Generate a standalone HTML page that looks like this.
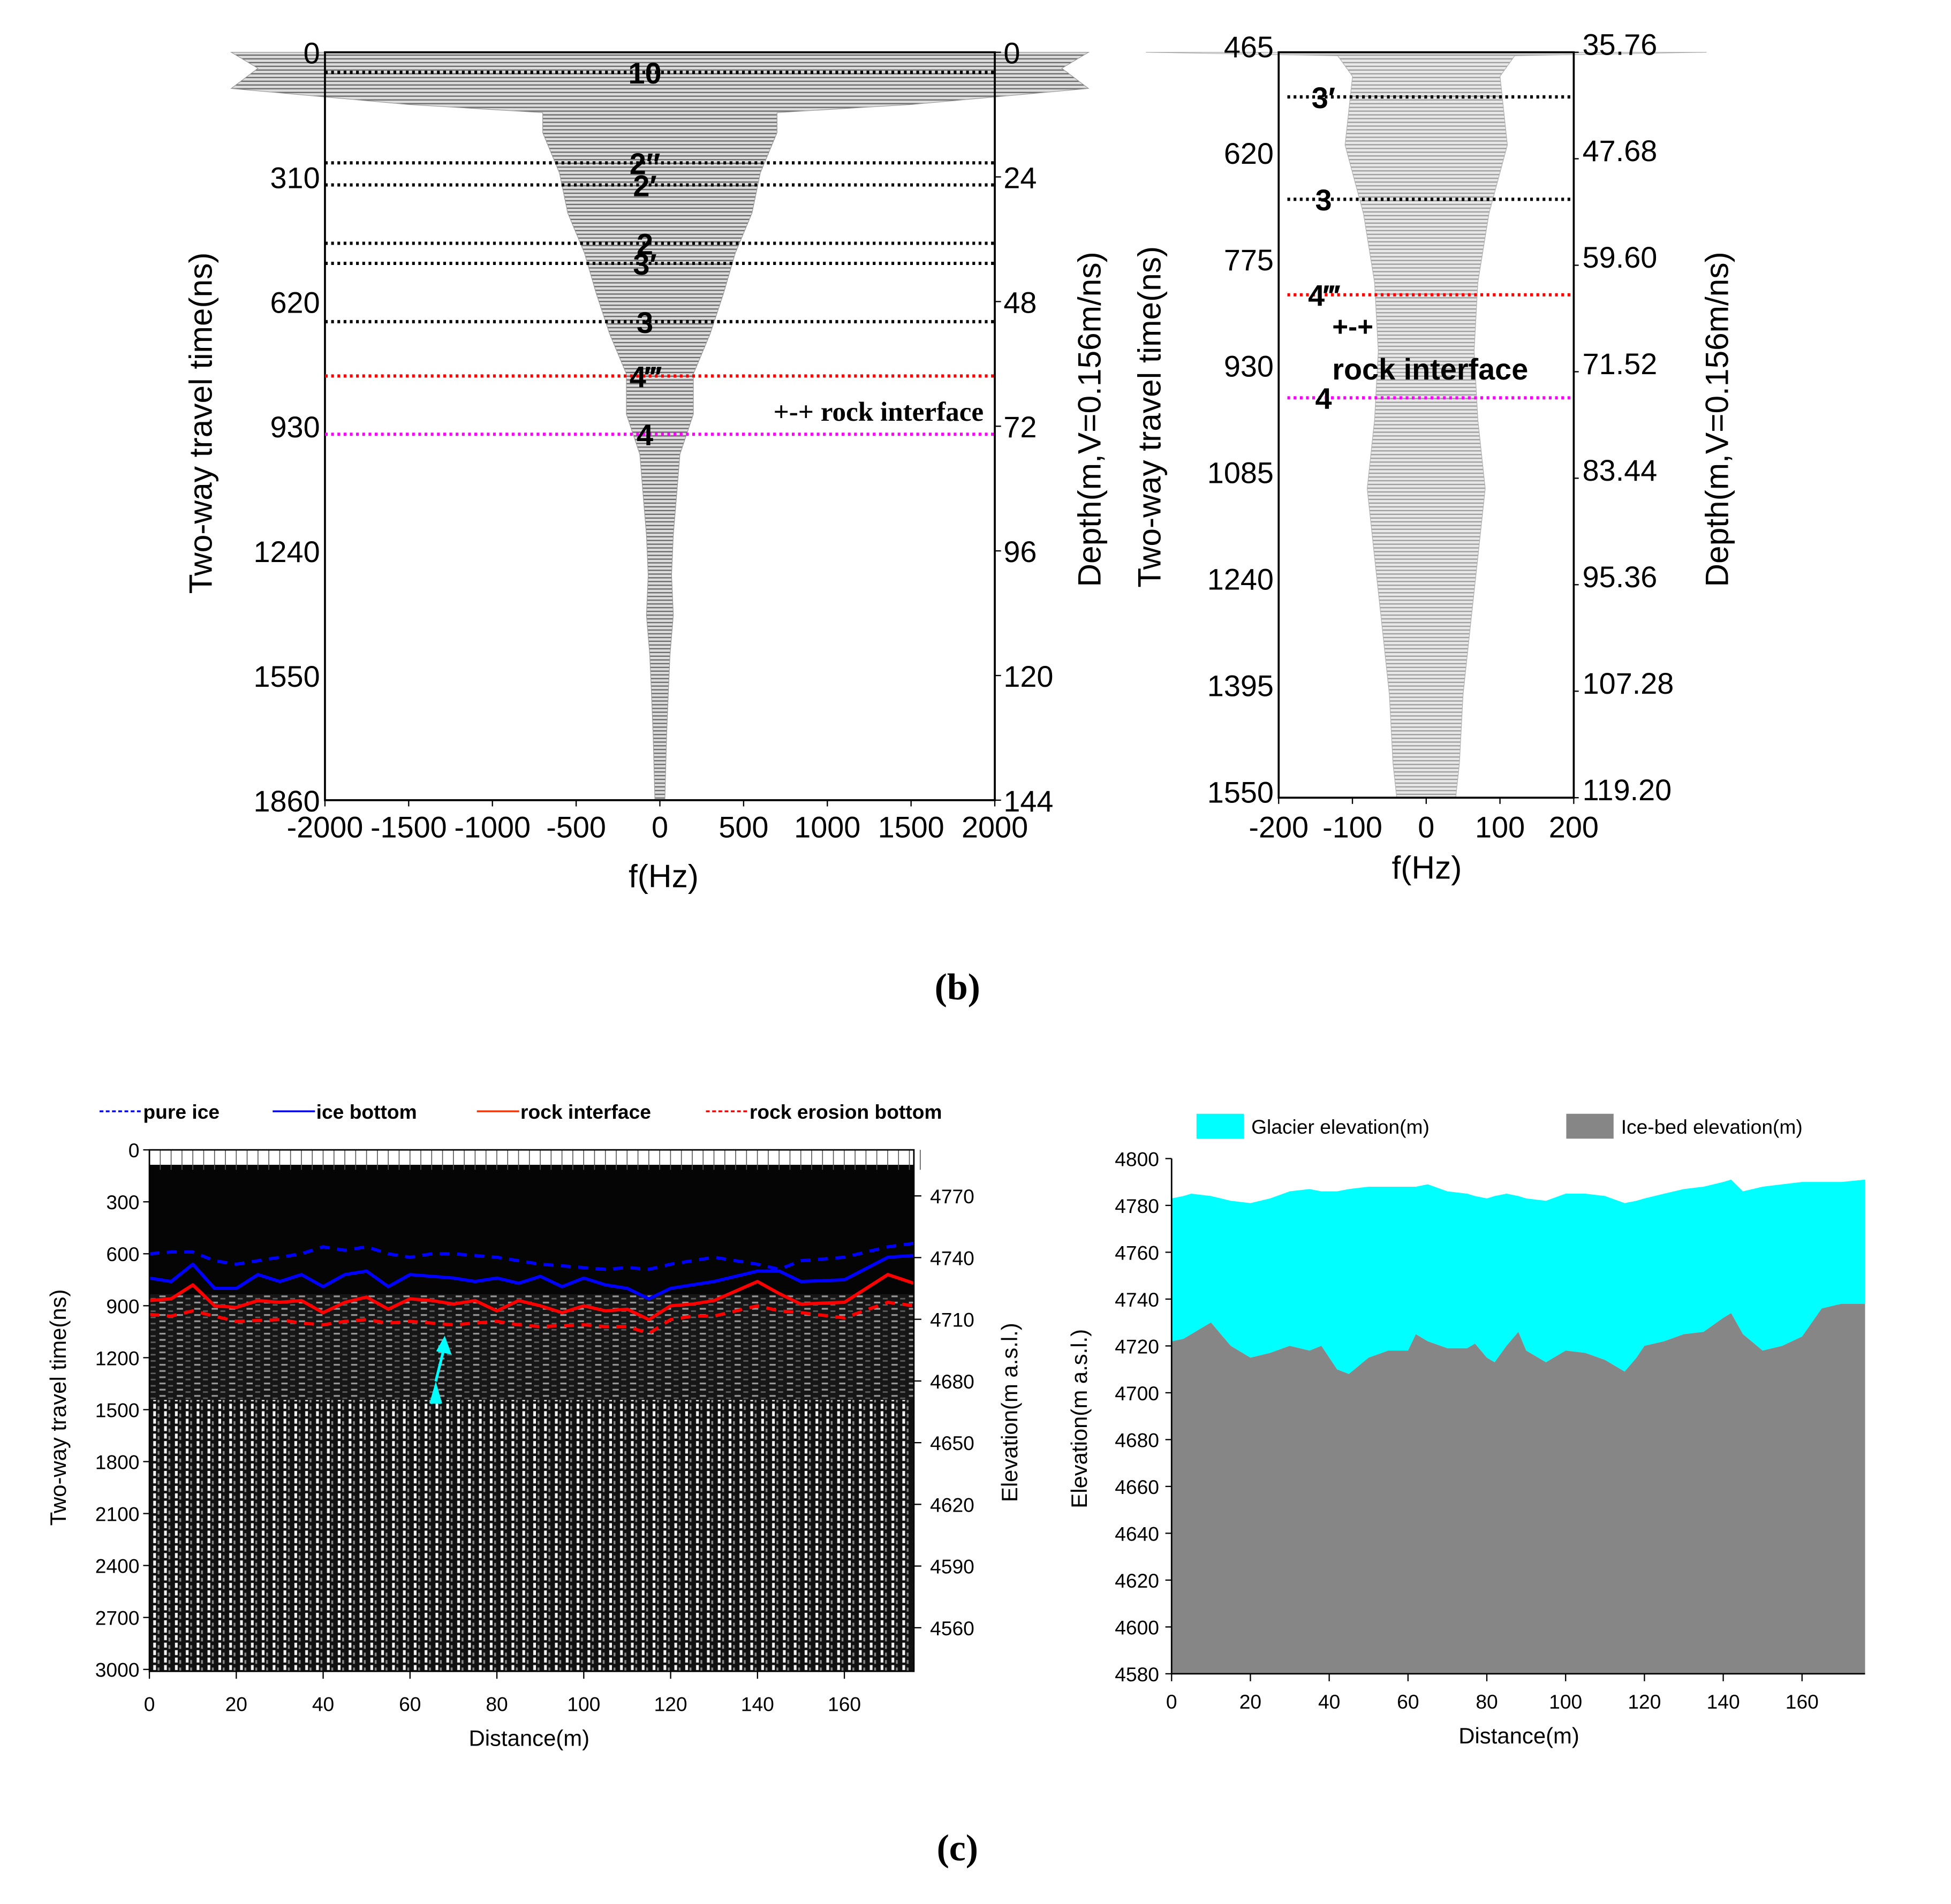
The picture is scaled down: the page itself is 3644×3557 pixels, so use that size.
<!DOCTYPE html>
<html><head><meta charset="utf-8">
<style>
html,body{margin:0;padding:0;background:#fff;}
svg{display:block;}
text{font-family:"Liberation Sans",Arial,sans-serif;}
</style></head>
<body>
<svg id="fig" xmlns="http://www.w3.org/2000/svg" width="3644" height="3557" viewBox="0 0 1567 1530" preserveAspectRatio="none">
<defs>
<pattern id="hstripe" width="6" height="3" patternUnits="userSpaceOnUse">
<rect width="6" height="3" fill="#dcdcdc"/><rect y="1.8" width="6" height="1" fill="#6a6a6a"/>
</pattern>
<pattern id="vstripe" width="8.72" height="6" patternUnits="userSpaceOnUse">
<rect width="8.72" height="6" fill="#111"/><rect x="1" width="2.2" height="4" fill="#f4f4f4"/><rect x="4.5" y="2" width="1.5" height="3" fill="#888"/>
</pattern>
<pattern id="speck" width="14" height="5" patternUnits="userSpaceOnUse">
<rect width="14" height="5" fill="#1a1a1a"/><rect x="2" y="1" width="5" height="1.4" fill="#bbb"/><rect x="9" y="3" width="4" height="1.2" fill="#777"/>
</pattern>
</defs>
<g id="root"></g>
</svg>
<script>
// ---- Panel (b) left: envelope of wiggle trace (time ns -> half-amplitude Hz)
const bLeftTimes = [0, 40, 90, 130, 150, 200, 300, 400, 500, 600, 700, 800, 900, 1000, 1100, 1200, 1300, 1400, 1500, 1600, 1700, 1860];
const bLeftAmp   = [2560, 2400, 2560, 1500, 700, 700, 600, 550, 450, 380, 300, 200, 200, 120, 100, 80, 70, 80, 60, 50, 40, 30];
const bLeftYTicks = [0, 310, 620, 930, 1240, 1550, 1860];
const bLeftDepthTicks = [0, 24, 48, 72, 96, 120, 144];
const bLeftXTicks = [-2000, -1500, -1000, -500, 0, 500, 1000, 1500, 2000];
const bLeftMarkerTimes = [50, 275, 330, 475, 525, 670, 805, 950];
const bLeftMarkerLabels = ["10", "2\u2033", "2\u2032", "2", "3\u2032", "3", "4\u2034", "4"];
const bLeftMarkerColors = ["#000", "#000", "#000", "#000", "#000", "#000", "#ff0000", "#ff00ff"];
// ---- Panel (b) right
const bRightTimes = [465, 470, 500, 600, 700, 800, 900, 1000, 1100, 1200, 1300, 1400, 1500, 1550];
const bRightAmp   = [380, 120, 100, 110, 85, 70, 65, 70, 80, 70, 60, 50, 45, 40];
const bRightYTicks = [465, 620, 775, 930, 1085, 1240, 1395, 1550];
const bRightDepthTicks = ["35.76", "47.68", "59.60", "71.52", "83.44", "95.36", "107.28", "119.20"];
const bRightXTicks = [-200, -100, 0, 100, 200];
const bRightMarkerTimes = [530, 679, 818, 968];
const bRightMarkerLabels = ["3\u2032", "3", "4\u2034", "4"];
const bRightMarkerColors = ["#000", "#000", "#ff0000", "#ff00ff"];
// ---- Panel (c) left: radargram horizons (distance m -> time ns)
const cDist = [0, 5, 10, 15, 20, 25, 30, 35, 40, 45, 50, 55, 60, 65, 70, 75, 80, 85, 90, 95, 100, 105, 110, 115, 120, 125, 130, 140, 145, 150, 160, 170, 176];
const pureIce   = [600, 590, 590, 640, 660, 640, 620, 600, 560, 580, 560, 600, 620, 600, 600, 610, 620, 640, 660, 670, 680, 690, 680, 690, 660, 640, 620, 660, 690, 640, 620, 560, 540];
const iceBottom = [740, 760, 660, 800, 800, 720, 760, 720, 790, 720, 700, 790, 720, 730, 740, 760, 740, 770, 730, 790, 740, 780, 800, 860, 800, 780, 760, 700, 700, 760, 750, 620, 610];
const rockIface = [870, 860, 780, 900, 910, 870, 880, 870, 940, 880, 850, 920, 860, 870, 890, 870, 930, 870, 900, 940, 900, 930, 920, 980, 900, 890, 870, 760, 830, 890, 880, 720, 770];
const erosion   = [950, 960, 930, 960, 990, 985, 980, 1000, 1010, 990, 980, 1000, 990, 1000, 1010, 1000, 990, 1010, 1020, 1015, 1010, 1020, 1020, 1060, 980, 960, 960, 900, 930, 940, 970, 880, 900];
const cLeftYTicks = [0, 300, 600, 900, 1200, 1500, 1800, 2100, 2400, 2700, 3000];
const cLeftElevTicks = [4770, 4740, 4710, 4680, 4650, 4620, 4590, 4560];
const cXTicks = [0, 20, 40, 60, 80, 100, 120, 140, 160];
// ---- Panel (c) right: elevations
const elevDist = [0, 3, 5, 10, 15, 20, 25, 30, 35, 38, 42, 45, 50, 55, 60, 62, 65, 70, 75, 77, 80, 82, 85, 88, 90, 95, 100, 105, 110, 115, 118, 120, 125, 130, 135, 140, 142, 145, 150, 155, 160, 165, 170, 176];
const glacierElev = [4783, 4784, 4785, 4784, 4782, 4781, 4783, 4786, 4787, 4786, 4786, 4787, 4788, 4788, 4788, 4788, 4789, 4786, 4785, 4784, 4783, 4784, 4785, 4784, 4783, 4782, 4785, 4785, 4784, 4781, 4782, 4783, 4785, 4787, 4788, 4790, 4791, 4786, 4788, 4789, 4790, 4790, 4790, 4791];
const bedElev = [4722, 4723, 4725, 4730, 4720, 4715, 4717, 4720, 4718, 4720, 4710, 4708, 4715, 4718, 4718, 4725, 4722, 4719, 4719, 4721, 4715, 4713, 4720, 4726, 4718, 4713, 4718, 4717, 4714, 4709, 4715, 4720, 4722, 4725, 4726, 4732, 4734, 4725, 4718, 4720, 4724, 4736, 4738, 4738];
const cRightYTicks = [4580, 4600, 4620, 4640, 4660, 4680, 4700, 4720, 4740, 4760, 4780, 4800];

const NS = "http://www.w3.org/2000/svg";
const root = document.getElementById("root");
function mk(tag, attrs, parent) {
  const e = document.createElementNS(NS, tag);
  for (const k in attrs) e.setAttribute(k, attrs[k]);
  (parent || root).appendChild(e);
  return e;
}
function txt(s, x, y, size, attrs, parent) {
  const a = Object.assign({x: x, y: y, "font-size": size}, attrs || {});
  const e = mk("text", a, parent);
  e.textContent = s;
  return e;
}
function lin(d0, d1, r0, r1) { return v => r0 + (v - d0) * (r1 - r0) / (d1 - d0); }
const SERIF = "font-family:'Liberation Serif',serif";

// ================= Panel b left =================
(function () {
  const L = 261, R = 799, T = 42, B = 643;
  const x = lin(-2000, 2000, L, R), y = lin(0, 1860, T, B), yd = lin(0, 144, T, B);
  const g = mk("g", {});
  
  
  let up = "", dn = "";
  bLeftTimes.forEach((t, i) => { up += (i ? "L" : "M") + x(bLeftAmp[i]).toFixed(1) + "," + y(t).toFixed(1); });
  for (let i = bLeftTimes.length - 1; i >= 0; i--) dn += "L" + x(-bLeftAmp[i]).toFixed(1) + "," + y(bLeftTimes[i]).toFixed(1);
  const env = mk("path", {d: up + dn + "Z", fill: "url(#hstripe)", stroke: "#999", "stroke-width": 0.5}, g);
  
  
  const ax = mk("rect", {x: L, y: T, width: R - L, height: B - T, fill: "none", stroke: "#000", "stroke-width": 1.6}, g);
  
  
  bLeftMarkerTimes.forEach((t, i) => {
    const l = mk("line", {x1: L, x2: R, y1: y(t), y2: y(t), stroke: bLeftMarkerColors[i], "stroke-width": 2.6, "stroke-dasharray": "2.2 2.8"}, g);
    
    
    const tx = txt(bLeftMarkerLabels[i], 518, y(t) + 9, 24, {"font-weight": "bold", "text-anchor": "middle"}, g);
    
    
  });
  const ri = txt("+-+ rock interface", 790, 338, 22, {style: SERIF, "font-weight": "bold", "text-anchor": "end"}, g);
  
  
  bLeftYTicks.forEach(v => {
    const tk = txt(String(v), L - 4, y(v) + 9, 24, {"text-anchor": "end"}, g);
    
    
  });
  bLeftDepthTicks.forEach(v => {
    mk("line", {x1: R, x2: R + 5, y1: yd(v), y2: yd(v), stroke: "#000"}, g);
    const tk = txt(String(v), R + 7, yd(v) + 9, 24, {}, g);
    
    
  });
  bLeftXTicks.forEach(v => {
    mk("line", {x1: x(v), x2: x(v), y1: B, y2: B + 5, stroke: "#000"}, g);
    const tk = txt(String(v), x(v), 673, 24, {"text-anchor": "middle"}, g);
    
    
  });
  const xl = txt("f(Hz)", 533, 713, 26, {"text-anchor": "middle"}, g);
  
  
  const yl = txt("Two-way travel time(ns)", 0, 0, 26, {"text-anchor": "middle", transform: "translate(170,340) rotate(-90)"}, g);
  
  
  const dl = txt("Depth(m,V=0.156m/ns)", 0, 0, 26, {"text-anchor": "middle", transform: "translate(884,337) rotate(-90)"}, g);
  
  
})();

// ================= Panel b right =================
(function () {
  const L = 1027, R = 1264, T = 42, B = 641;
  const x = lin(-200, 200, L, R), y = lin(465, 1550, T, B);
  const g = mk("g", {});
  
  
  let up = "", dn = "";
  bRightTimes.forEach((t, i) => { up += (i ? "L" : "M") + x(bRightAmp[i]).toFixed(1) + "," + y(t).toFixed(1); });
  for (let i = bRightTimes.length - 1; i >= 0; i--) dn += "L" + x(-bRightAmp[i]).toFixed(1) + "," + y(bRightTimes[i]).toFixed(1);
  const env = mk("path", {d: up + dn + "Z", fill: "url(#hstripe)", stroke: "#888", "stroke-width": 0.5, opacity: 0.65}, g);
  
  
  const ax = mk("rect", {x: L, y: T, width: R - L, height: B - T, fill: "none", stroke: "#000", "stroke-width": 1.6}, g);
  
  
  bRightMarkerTimes.forEach((t, i) => {
    const l = mk("line", {x1: 1034, x2: R, y1: y(t), y2: y(t), stroke: bRightMarkerColors[i], "stroke-width": 2.6, "stroke-dasharray": "2.2 2.8"}, g);
    
    
    const tx = txt(bRightMarkerLabels[i], 1063, y(t) + 9, 24, {"font-weight": "bold", "text-anchor": "middle"}, g);
    
    
  });
  const a1 = txt("+-+", 1070, 270, 22, {"font-weight": "bold"}, g);
  
  
  const a2 = txt("rock interface", 1070, 305, 24, {"font-weight": "bold"}, g);
  
  
  bRightYTicks.forEach(v => {
    const tk = txt(String(v), L - 4, y(v) + 4, 24, {"text-anchor": "end"}, g);
    
    
  });
  bRightDepthTicks.forEach((s, i) => {
    const yy = y(bRightYTicks[i]);
    mk("line", {x1: R, x2: R + 4, y1: yy, y2: yy, stroke: "#000"}, g);
    const tk = txt(s, R + 7, yy + 2, 24, {}, g);
    
    
  });
  bRightXTicks.forEach(v => {
    mk("line", {x1: x(v), x2: x(v), y1: B, y2: B + 5, stroke: "#000"}, g);
    const tk = txt(String(v), x(v), 673, 24, {"text-anchor": "middle"}, g);
    
    
  });
  const xl = txt("f(Hz)", 1146, 706, 26, {"text-anchor": "middle"}, g);
  
  
  const yl = txt("Two-way travel time(ns)", 0, 0, 26, {"text-anchor": "middle", transform: "translate(932,335) rotate(-90)"}, g);
  
  
  const dl = txt("Depth(m,V=0.156m/ns)", 0, 0, 26, {"text-anchor": "middle", transform: "translate(1388,337) rotate(-90)"}, g);
  
  
})();

const capB = txt("(b)", 769, 803, 30, {style: SERIF, "font-weight": "bold", "text-anchor": "middle"});


const capC = txt("(c)", 769, 1495, 30, {style: SERIF, "font-weight": "bold", "text-anchor": "middle"});



// ================= Panel c left =================
(function () {
  const L = 120, R = 734, T = 924, B = 1343;
  const x = lin(0, 176, L, R), y = lin(0, 3000, T, 1341.5), ye = lin(4770, 4560, 961, 1308);
  const g = mk("g", {});
  
  
  const r1 = mk("rect", {x: L, y: 936, width: R - L, height: B - 936, fill: "#050505"}, g);
  
  
  mk("rect", {x: L, y: 1040, width: R - L, height: 100, fill: "url(#speck)", opacity: 0.8}, g);
  mk("rect", {x: L, y: 1125, width: R - L, height: B - 1125, fill: "url(#vstripe)"}, g);
  for (let i = 0; i < 72; i++) mk("line", {x1: L + i * 8.72, x2: L + i * 8.72, y1: T, y2: 940, stroke: "#555", "stroke-width": 0.7}, g);
  const series = [[pureIce, "#0000ff", "8 6", "pure-ice-line"], [iceBottom, "#0000ff", "", "ice-bottom-line"], [rockIface, "#ff0000", "", "rock-interface-line"], [erosion, "#ff0000", "8 6", "rock-erosion-bottom-line"]];
  series.forEach(s => {
    let d = "";
    cDist.forEach((v, i) => { d += (i ? "L" : "M") + x(v).toFixed(1) + "," + y(s[0][i]).toFixed(1); });
    const p = mk("path", {d: d, fill: "none", stroke: s[1], "stroke-width": 2.6, "stroke-dasharray": s[2], "stroke-linejoin": "round"}, g);
    
    
  });
  const ar = mk("path", {d: "M350,1110 L357,1082 M352,1085 L357,1076 L361,1087 Z M346,1128 L350,1114 L354,1128 M347.5,1123 L352.5,1123", stroke: "#00ffff", "stroke-width": 2.2, fill: "#00ffff"}, g);
  
  
  const fr = mk("rect", {x: L, y: T, width: R - L, height: B - T, fill: "none", stroke: "#000", "stroke-width": 1.2}, g);
  
  
  cLeftYTicks.forEach(v => {
    mk("line", {x1: L - 5, x2: L, y1: y(v), y2: y(v), stroke: "#000"}, g);
    const tk = txt(String(v), L - 8, y(v) + 6, 16, {"text-anchor": "end"}, g);
    
    
  });
  cLeftElevTicks.forEach(v => {
    mk("line", {x1: R, x2: R + 6, y1: ye(v), y2: ye(v), stroke: "#000"}, g);
    const tk = txt(String(v), R + 13, ye(v) + 6, 16, {}, g);
    
    
  });
  cXTicks.forEach(v => {
    mk("line", {x1: x(v), x2: x(v), y1: B, y2: B + 6, stroke: "#000"}, g);
    const tk = txt(String(v), x(v), 1375, 16, {"text-anchor": "middle"}, g);
    
    
  });
  const xl = txt("Distance(m)", 425, 1403, 18, {"text-anchor": "middle"}, g);
  
  
  const yl = txt("Two-way travel time(ns)", 0, 0, 18, {"text-anchor": "middle", transform: "translate(53,1131) rotate(-90)"}, g);
  
  
  const el = txt("Elevation(m a.s.l.)", 0, 0, 18, {"text-anchor": "middle", transform: "translate(817,1135) rotate(-90)"}, g);
  
  
  const leg = [["pure ice", 80, "#0000ff", "3 2", "legend-pure-ice"], ["ice bottom", 219, "#0000ff", "", "legend-ice-bottom"], ["rock interface", 383, "#ff3300", "", "legend-rock-interface"], ["rock erosion bottom", 567, "#ff0000", "3 2", "legend-rock-erosion-bottom"]];
  leg.forEach(l => {
    const lg = mk("g", {}, g);
    
    
    mk("line", {x1: l[1], x2: l[1] + 34, y1: 893, y2: 893, stroke: l[2], "stroke-width": 1.5, "stroke-dasharray": l[3]}, lg);
    txt(l[0], l[1] + 35, 899, 16, {"font-weight": "bold"}, lg);
  });
})();

// ================= Panel c right =================
(function () {
  const L = 941, R = 1498, T = 931, B = 1345;
  const x = lin(0, 176, L, R), y = lin(4580, 4800, B, T);
  const g = mk("g", {});
  
  
  let top = "", bed = "";
  elevDist.forEach((v, i) => { top += (i ? "L" : "M") + x(v).toFixed(1) + "," + y(glacierElev[i]).toFixed(1); });
  let bedFwd = "";
  elevDist.forEach((v, i) => { bedFwd += (i ? "L" : "M") + x(v).toFixed(1) + "," + y(bedElev[i]).toFixed(1); });
  for (let i = elevDist.length - 1; i >= 0; i--) bed += "L" + x(elevDist[i]).toFixed(1) + "," + y(bedElev[i]).toFixed(1);
  const ga = mk("path", {d: top + bed + "Z", fill: "#00ffff"}, g);
  
  
  const ba = mk("path", {d: bedFwd + "L" + R + "," + B + "L" + L + "," + B + "Z", fill: "#868686"}, g);
  
  
  mk("line", {x1: L, x2: L, y1: T, y2: B, stroke: "#000", "stroke-width": 1.2}, g);
  mk("line", {x1: L, x2: R, y1: B, y2: B, stroke: "#000", "stroke-width": 1.2}, g);
  cRightYTicks.forEach(v => {
    mk("line", {x1: L - 5, x2: L, y1: y(v), y2: y(v), stroke: "#000"}, g);
    const tk = txt(String(v), L - 10, y(v) + 6, 16, {"text-anchor": "end"}, g);
    
    
  });
  cXTicks.forEach(v => {
    mk("line", {x1: x(v), x2: x(v), y1: B, y2: B + 6, stroke: "#000"}, g);
    const tk = txt(String(v), x(v), 1373, 16, {"text-anchor": "middle"}, g);
    
    
  });
  const xl = txt("Distance(m)", 1220, 1401, 18, {"text-anchor": "middle"}, g);
  
  
  const yl = txt("Elevation(m a.s.l.)", 0, 0, 18, {"text-anchor": "middle", transform: "translate(873,1140) rotate(-90)"}, g);
  
  
  const l1 = mk("g", {}, g);
  
  
  mk("rect", {x: 961, y: 895, width: 38, height: 20, fill: "#00ffff"}, l1);
  txt("Glacier  elevation(m)", 1005, 911, 16, {"xml:space": "preserve"}, l1);
  const l2 = mk("g", {}, g);
  
  
  mk("rect", {x: 1258, y: 895, width: 38, height: 20, fill: "#868686"}, l2);
  txt("Ice-bed  elevation(m)", 1302, 911, 16, {}, l2);
})();
</script>
</body></html>
